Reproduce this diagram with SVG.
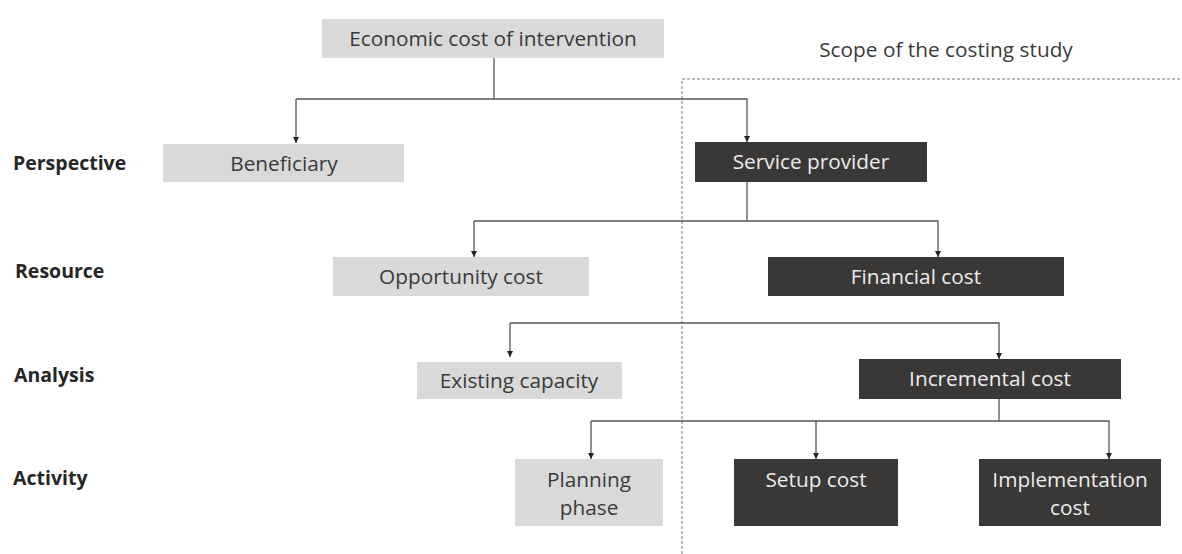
<svg xmlns="http://www.w3.org/2000/svg" width="1182" height="554" viewBox="0 0 1182 554">
<defs>
<style>
.t{font-family:"Open Sans","Liberation Sans",sans-serif;font-size:20.8px;text-anchor:middle}
.lt{fill:#3a3a3a}
.dt{fill:#ececec}
.lb{fill:#d9d9d9}
.db{fill:#3a3836}
.lab{font-family:"Open Sans","Liberation Sans",sans-serif;font-size:19.5px;font-weight:bold;fill:#262626}
.c{fill:none;stroke:#555;stroke-width:1.3}
.ca{fill:none;stroke:#555;stroke-width:1.3;marker-end:url(#ah)}
</style>
<marker id="ah" viewBox="0 0 8 8" refX="8" refY="4" markerWidth="6" markerHeight="6" markerUnits="userSpaceOnUse" orient="auto">
<path d="M0,0 L8,4 L0,8 Z" fill="#222"/>
</marker>
</defs>
<rect width="1182" height="554" fill="#fff"/>

<g id="scope">
<path d="M682,554 L682,79 L1182,79" fill="none" stroke="#777" stroke-width="1" stroke-dasharray="3,2"/>
<text class="t lt" x="946" y="57">Scope of the costing study</text>
</g>

<g id="labels">
<text class="lab" x="13" y="170">Perspective</text>
<text class="lab" x="15" y="278">Resource</text>
<text class="lab" x="14" y="382">Analysis</text>
<text class="lab" x="13" y="485">Activity</text>
</g>

<g id="connectors">
<path class="c" d="M494,58 V99"/>
<path class="ca" d="M296,99 H747 V142"/>
<path class="ca" d="M296,99 V143"/>
<path class="c" d="M747,182 V221"/>
<path class="ca" d="M474,221 H938 V257"/>
<path class="ca" d="M474,221 V257"/>
<path class="ca" d="M510,323 H999 V359"/>
<path class="ca" d="M510,323 V357"/>
<path class="c" d="M999,399 V421"/>
<path class="ca" d="M591,421 H1109 V459"/>
<path class="ca" d="M591,421 V459"/>
<path class="ca" d="M816,421 V459"/>
</g>

<g id="n-economic">
<rect class="lb" x="322" y="19" width="342" height="39"/>
<text class="t lt" x="493" y="46">Economic cost of intervention</text>
</g>
<g id="n-beneficiary">
<rect class="lb" x="163" y="144" width="241" height="38"/>
<text class="t lt" x="284" y="171">Beneficiary</text>
</g>
<g id="n-service">
<rect class="db" x="695" y="142" width="232" height="40"/>
<text class="t dt" x="811" y="169">Service provider</text>
</g>
<g id="n-opportunity">
<rect class="lb" x="333" y="257" width="256" height="39"/>
<text class="t lt" x="461" y="284">Opportunity cost</text>
</g>
<g id="n-financial">
<rect class="db" x="768" y="257" width="296" height="39"/>
<text class="t dt" x="916" y="284">Financial cost</text>
</g>
<g id="n-existing">
<rect class="lb" x="417" y="362" width="205" height="37"/>
<text class="t lt" x="519" y="388">Existing capacity</text>
</g>
<g id="n-incremental">
<rect class="db" x="859" y="359" width="262" height="40"/>
<text class="t dt" x="990" y="386">Incremental cost</text>
</g>
<g id="n-planning">
<rect class="lb" x="515" y="459" width="148" height="67"/>
<text class="t lt" x="589" y="487">Planning</text>
<text class="t lt" x="589" y="515">phase</text>
</g>
<g id="n-setup">
<rect class="db" x="734" y="459" width="164" height="67"/>
<text class="t dt" x="816" y="487">Setup cost</text>
</g>
<g id="n-implementation">
<rect class="db" x="979" y="459" width="182" height="67"/>
<text class="t dt" x="1070" y="487">Implementation</text>
<text class="t dt" x="1070" y="515">cost</text>
</g>
</svg>
